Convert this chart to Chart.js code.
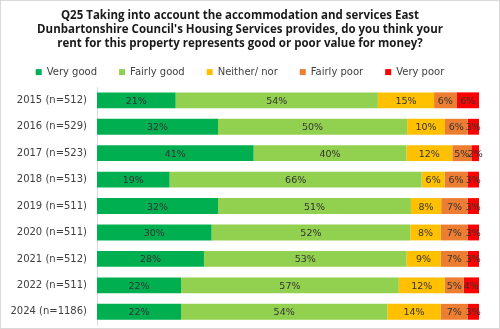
<!DOCTYPE html>
<html lang="en">
<head>
  <meta charset="utf-8">
  <title>Q25 value for money</title>
  <script src="https://cdn.jsdelivr.net/npm/chart.js@4.4.0/dist/chart.umd.min.js"></script>
  <style>
    html, body { margin: 0; padding: 0; background: #fff; }
    .wrap { position: relative; width: 500px; height: 329px; box-sizing: border-box; border: 1px solid #d9d9d9; overflow: hidden; }
    .inner { position: relative; width: 498px; height: 340px; }
  </style>
</head>
<body>
  <div class="wrap"><div class="inner"><canvas id="q25Chart"></canvas></div></div>
<script>
  // survey years (y axis)
  const years = ['2015 (n=512)', '2016 (n=529)', '2017 (n=523)', '2018 (n=513)', '2019 (n=511)',
                 '2020 (n=511)', '2021 (n=512)', '2022 (n=511)', '2024 (n=1186)'];

  const veryGood    = [21, 32, 41, 19, 32, 30, 28, 22, 22];
  const fairlyGood  = [54, 50, 40, 66, 51, 52, 53, 57, 54];
  const neitherNor  = [15, 10, 12, 6, 8, 8, 9, 12, 14];
  const fairlyPoor  = [6, 6, 5, 6, 7, 7, 7, 5, 7];
  const veryPoor    = [6, 3, 2, 3, 3, 3, 3, 4, 3];

  const seriesNames = ['Very good', 'Fairly good', 'Neither/ nor', 'Fairly poor', 'Very poor'];
  const seriesColours = ['#00B050', '#92D050', '#FFC000', '#ED7D31', '#FF0000'];
  const allSeries = [veryGood, fairlyGood, neitherNor, fairlyPoor, veryPoor];

  // 100% stacked: each row is scaled to its own total
  const totals = years.map((y, i) => allSeries.reduce((s, arr) => s + arr[i], 0));

  const datasets = allSeries.map((arr, k) => ({
    label: seriesNames[k],
    data: arr.map((v, i) => v / totals[i] * 100),
    raw: arr,
    backgroundColor: seriesColours[k],
    borderWidth: 0,
    barPercentage: 0.6,
    categoryPercentage: 1
  }));

  // draws the "21%" labels in the middle of each segment
  const segLabels = {
    id: 'segLabels',
    afterDatasetsDraw(chart) {
      const ctx = chart.ctx;
      ctx.save();
      ctx.font = '9.5px "DejaVu Sans", sans-serif';
      ctx.fillStyle = '#333';
      ctx.textAlign = 'center';
      ctx.textBaseline = 'middle';
      chart.data.datasets.forEach((ds, k) => {
        chart.getDatasetMeta(k).data.forEach((bar, i) => {
          ctx.fillText(ds.raw[i] + '%', (bar.x + bar.base) / 2, bar.y + 1);
        });
      });
      ctx.restore();
    }
  };

  new Chart(document.getElementById('q25Chart'), {
    type: 'bar',
    data: { labels: years, datasets: datasets },
    plugins: [segLabels],
    options: {
      indexAxis: 'y',
      responsive: true,
      maintainAspectRatio: false,
      animation: false,
      layout: { padding: { left: 0, right: 20, bottom: 3, top: 0 } },
      plugins: {
        title: {
          display: true,
          text: ['Q25 Taking into account the accommodation and services East',
                 "Dunbartonshire Council's Housing Services provides, do you think your",
                 'rent for this property represents good or poor value for money?'],
          color: '#1a1a1a',
          font: { family: '"Open Sans", sans-serif', size: 11.5, weight: 'bold', lineHeight: 1.22 },
          padding: { top: 8, bottom: -6 }
        },
        legend: {
          labels: {
            boxWidth: 6,
            boxHeight: 6,
            padding: 22,
            color: '#404040',
            font: { family: '"DejaVu Sans", sans-serif', size: 10 }
          }
        },
        tooltip: { enabled: false }
      },
      scales: {
        x: { stacked: true, min: 0, max: 100, display: false },
        y: {
          stacked: true,
          grid: { display: false, drawTicks: false },
          border: { color: '#d9d9d9' },
          ticks: {
            color: '#404040',
            padding: 10,
            font: { family: '"DejaVu Sans", sans-serif', size: 10 }
          },
          afterFit(scale) { scale.width = 96; }
        }
      }
    }
  });
</script>
</body>
</html>
